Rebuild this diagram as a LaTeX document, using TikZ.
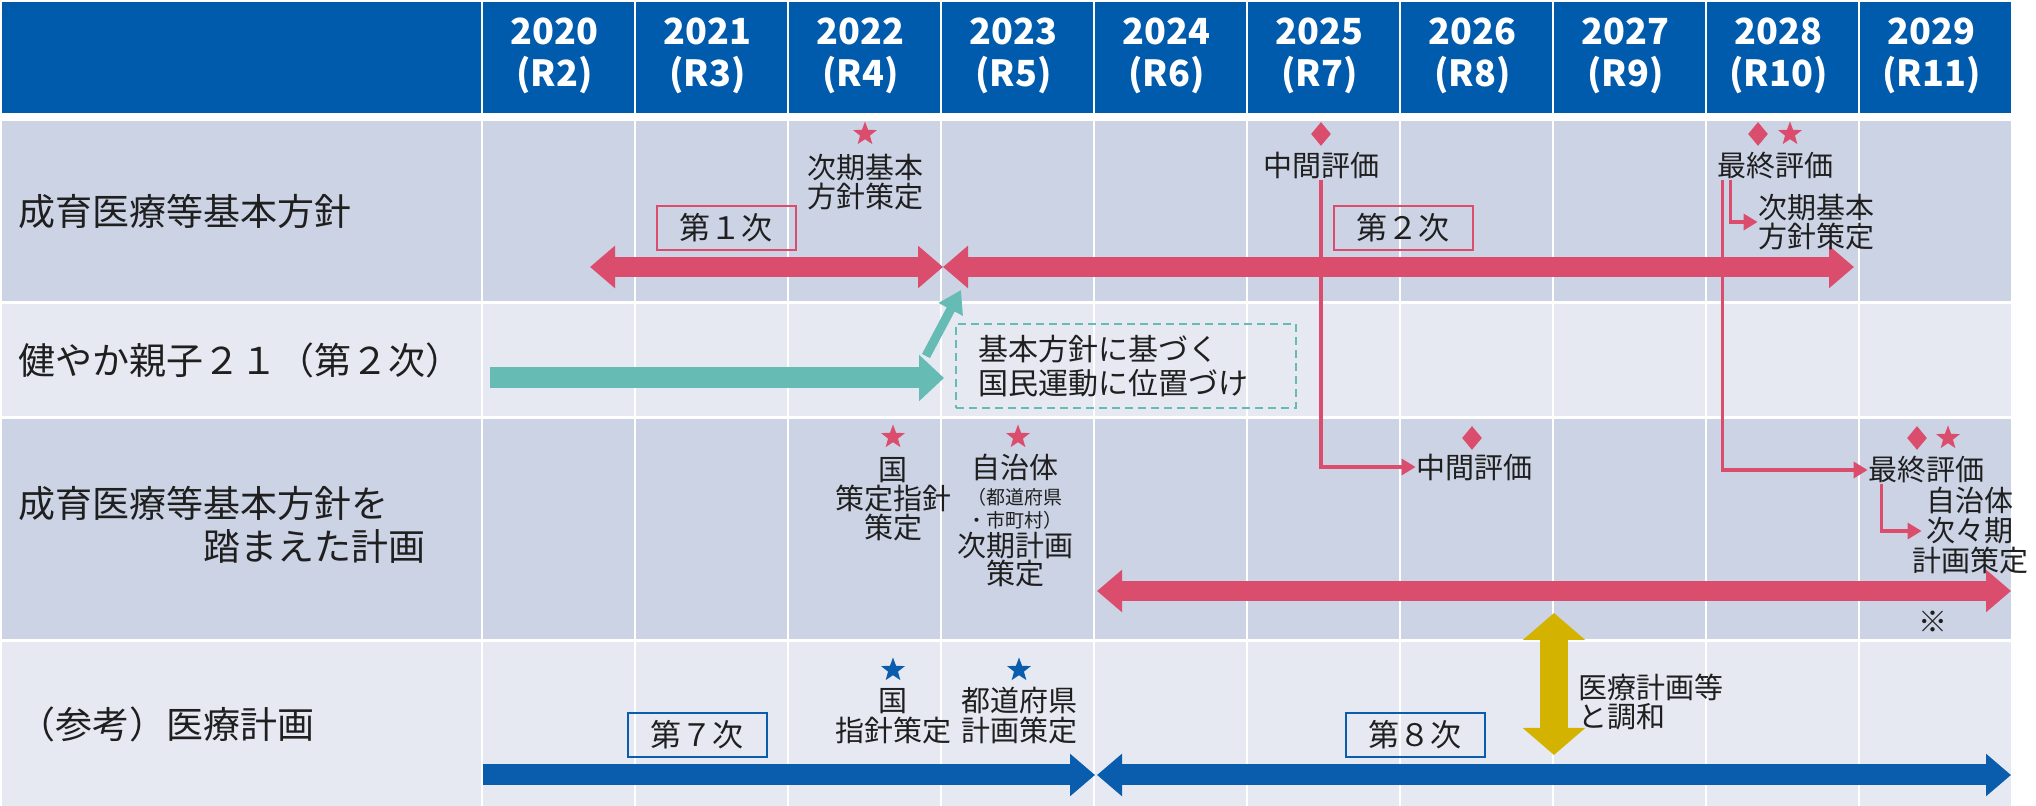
\documentclass[tikz,border=0pt]{standalone}
\usepackage{fontspec}
\setmainfont{Noto Sans CJK JP}
\usetikzlibrary{matrix,arrows.meta,shapes.geometric}
\definecolor{hdrblue}{HTML}{005BAC}
\definecolor{rowdark}{HTML}{CCD3E4}
\definecolor{rowlight}{HTML}{E6E9F2}
\definecolor{planpink}{HTML}{DB4D6D}
\definecolor{kenko}{HTML}{66BBB5}
\definecolor{iryo}{HTML}{0A5CAD}
\definecolor{chowa}{HTML}{D4B200}
\definecolor{ink}{HTML}{1F1F1F}
\newcommand\yr[2]{\begin{tabular}{@{}c@{}}#1\\(#2)\end{tabular}}
\newcommand\lbltwo[2]{\begin{tabular}{@{}l@{}}#1\\#2\end{tabular}}

\begin{document}
\begin{tikzpicture}[x=0.5pt,y=-0.5pt,
  txt/.style={text=ink,font=\fontsize{14.5pt}{14.5pt}\selectfont,align=center,inner sep=0pt},
  star5/.style={star,star points=5,star point ratio=2.4,minimum size=12.5pt,inner sep=0pt,fill=#1},
  dia/.style={diamond,minimum width=10pt,minimum height=12pt,inner sep=0pt,fill=planpink},
  term/.style={draw=#1,line width=1pt,minimum width=69.5pt,minimum height=22pt,inner sep=0pt,text=ink,font=\fontsize{15.5pt}{15.5pt}\selectfont},
  note/.style={draw=kenko,line width=1pt,dash pattern=on 4pt off 2.5pt,minimum width=170pt,minimum height=42pt,text width=148pt,inner xsep=11pt,inner ysep=0pt,align=left,text=ink,font=\fontsize{15pt}{17pt}\selectfont},
  band/.style={draw=#1,line width=10pt},
  link/.style={draw=planpink,line width=1.6pt,-{Triangle[length=7pt,width=8pt]}},
  blk/.tip={Triangle[length=12.5pt,width=20.5pt]},
  tlk/.tip={Triangle[length=12.5pt,width=22.5pt]},
  gld/.tip={Triangle[length=13.5pt,width=30.5pt]}]
\useasboundingbox (0,0) rectangle (2036,806);
\fill[white] (0,0) rectangle (2036,806);
\matrix (m) [matrix of nodes,nodes in empty cells,anchor=north west,inner sep=0pt,outer sep=0pt,
  column sep=1pt,row sep=1.5pt,
  nodes={anchor=center,fill=rowdark,minimum width=75.5pt,inner sep=0pt,outer sep=0pt},
  column 1/.style={nodes={minimum width=239.5pt,text width=222.5pt,inner xsep=8.5pt,align=left,text=ink,font=\fontsize{18.5pt}{19.5pt}\selectfont}},
  row 1/.style={nodes={fill=hdrblue,minimum height=55.5pt,text=white,align=center,font=\bfseries\fontsize{18pt}{19.5pt}\selectfont}},
  row 2/.style={nodes={minimum height=90pt}},
  row 3/.style={nodes={fill=rowlight,minimum height=56pt}},
  row 4/.style={nodes={minimum height=110pt}},
  row 5/.style={nodes={fill=rowlight,minimum height=82pt}}] at (2,2)
{
  & \yr{2020}{R2} & \yr{2021}{R3} & \yr{2022}{R4} & \yr{2023}{R5} & \yr{2024}{R6} & \yr{2025}{R7} & \yr{2026}{R8} & \yr{2027}{R9} & \yr{2028}{R10} & \yr{2029}{R11} \\[2.5pt]
  成育医療等基本方針 & & & & & & & & & & \\
  健やか親子２１（第２次） & & & & & & & & & & \\
  \lbltwo{成育医療等基本方針を}{\hspace*{92.5pt}踏まえた計画} & & & & & & & & & & \\
  （参考）医療計画 & & & & & & & & & & \\
};
% ends of the bands
\coordinate (s1a) at (590,267); \coordinate (s1b) at (943,267); \coordinate (s2b) at (1854,267);
\coordinate (kA) at (490,378); \coordinate (kB) at (944,378);
\coordinate (uA) at (926,356); \coordinate (uB) at (961,290);
\coordinate (pA) at (1097,591); \coordinate (pB) at (2011,591);
\coordinate (iA) at (483,775); \coordinate (iB) at (1095,775);
\coordinate (iC) at (1097,775); \coordinate (iD) at (2011,775);
\coordinate (hA) at (1554,613); \coordinate (hB) at (1554,755);
\draw[band=planpink,blk-blk] (s1a) -- (s1b);
\draw[band=planpink,blk-blk] (s1b) -- (s2b);
\draw[band=kenko,line width=10.5pt,-tlk] (kA) -- (kB);
\draw[kenko,line width=4.5pt,-{Triangle[length=11pt,width=13pt]}] (uA) -- (uB);
\draw[band=planpink,blk-blk] (pA) -- (pB);
\draw[band=iryo,line width=10.5pt,-blk] (iA) -- (iB);
\draw[band=iryo,line width=10.5pt,blk-blk] (iC) -- (iD);
\draw[band=chowa,line width=14pt,gld-gld] (hA) -- (hB);
% row 1
\node[star5=planpink] (sA) at (865,134) {};
\node[txt] (nextA) at (865,182) {次期基本\\方針策定};
\node[term=planpink] (ph1) at (726,228) {第１次};
\node[dia] (dA) at (1321,134) {};
\node[txt] (mid1) at (1321,166) {中間評価};
\node[term=planpink] (ph2) at (1403,228) {第２次};
\node[dia] (dB) at (1758,134) {};
\node[star5=planpink] (sB) at (1790,134) {};
\node[txt] (fin1) at (1775,166) {最終評価};
\node[txt,align=left] (nextB) at (1816,222) {次期基本\\方針策定};
% row 2
\node[note] (kihon) at (1126,366) {基本方針に基づく\\国民運動に位置づけ};
% row 3
\node[star5=planpink] (sC) at (893,437) {};
\node[txt] (natl) at (893,499) {国\\策定指針\\策定};
\node[star5=planpink] (sD) at (1018,437) {};
\node[txt,font=\fontsize{14.5pt}{13pt}\selectfont] (locl) at (1015,521)
  {自治体\\{\fontsize{9.5pt}{13pt}\selectfont （都道府県}\\[-1.5pt]{\fontsize{9.5pt}{13pt}\selectfont ・市町村）}\\次期計画\\策定};
\node[dia] (dC) at (1472,438) {};
\node[txt] (mid2) at (1474,467) {中間評価};
\node[dia] (dD) at (1917,438) {};
\node[star5=planpink] (sE) at (1948,438) {};
\node[txt] (fin2) at (1926,470) {最終評価};
\node[txt,font=\fontsize{14.5pt}{15pt}\selectfont] (next3) at (1970,531) {自治体\\次々期\\計画策定};
\node[txt] (kome) at (1933,622) {※};
% row 4
\node[star5=iryo] (sF) at (893,670) {};
\node[txt,font=\fontsize{14.5pt}{15pt}\selectfont] (natl2) at (893,716) {国\\指針策定};
\node[star5=iryo] (sG) at (1019,670) {};
\node[txt,font=\fontsize{14.5pt}{15pt}\selectfont] (pref) at (1019,716) {都道府県\\計画策定};
\node[term=iryo] (ph7) at (697,735) {第７次};
\node[term=iryo] (ph8) at (1415,735) {第８次};
\node[txt,align=left,anchor=west] (harm) at (1578,702) {医療計画等\\と調和};
% links
\draw[link] (mid1.south) |- (mid2.west);
\draw[link] ([xshift=3pt]fin1.south west) |- (fin2.west);
\draw[link] ([xshift=7pt]fin1.south west) |- (nextB.west);
\draw[link] ([xshift=7pt]fin2.south west) |- ([xshift=5pt]next3.west);
\end{tikzpicture}
\end{document}
